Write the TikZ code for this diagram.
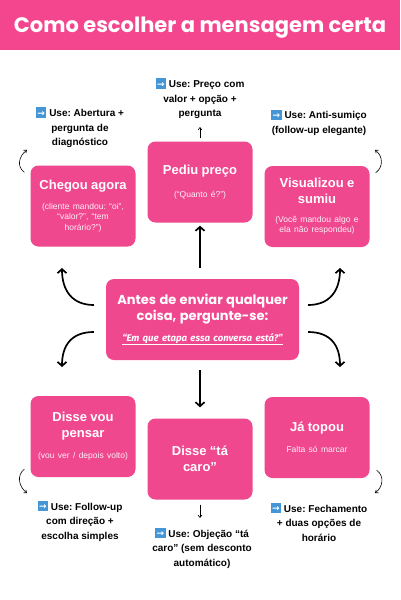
\documentclass[tikz,border=0pt]{standalone}
\usepackage{fontspec}
\setmainfont{Liberation Sans}
\newfontfamily\headfont{Poppins}
\newfontfamily\quotefont{Fira Sans}
\newfontfamily\symbolfont{DejaVu Sans}
\usetikzlibrary{arrows.meta,calc}
\definecolor{stagepink}{HTML}{F0488F}
\definecolor{barpink}{HTML}{F4468F}
\definecolor{emojiblue}{HTML}{4596D6}
\frenchspacing
\newcommand{\usearrow}{%
  \makebox[0pt][l]{\textcolor{emojiblue}{\rule[-0.12em]{1.05em}{1.05em}}}%
  \makebox[1.05em]{\raisebox{0.02em}{\textcolor{white}{\symbolfont\fontsize{9}{9}\selectfont →}}}}
\newcommand{\stagebox}[6]{%
  \node[stage] (#1) at (#2,#3) {%
    {\fontsize{13}{15.5}\selectfont\bfseries #4\par}\vspace{#6pt}%
    {\color{white!92!stagepink}\fontsize{8.5}{10.5}\selectfont #5\par}};
}
\tikzset{
  stage/.style={fill=stagepink, rounded corners=8pt, minimum width=105pt,
    minimum height=81pt, text width=97pt, inner sep=4pt, align=center, text=white},
  uselabel/.style={font=\fontsize{10}{14.5}\selectfont\bfseries, align=center},
  bigarrow/.style={line width=1.7pt, -{Straight Barb[length=4pt,width=9pt]}},
  smallarrow/.style={line width=0.6pt, -{Straight Barb[length=2.5pt,width=4pt]}},
}

\begin{document}
\begin{tikzpicture}[x=1pt,y=-1pt]
  \fill[white] (0,0) rectangle (400,600);
  \useasboundingbox (0,0) rectangle (400,600);
  % title bar
  \fill[barpink] (0,0) rectangle (400,50);
  \node[text=white,font=\headfont\bfseries\fontsize{21}{25}\selectfont] (title) at (200,28)
    {Como escolher a mensagem certa};

  % stages
  \node[stage, minimum width=191pt, text width=185pt] (center) at (202.5,319.5) {%
    {\headfont\bfseries\fontsize{13}{16}\selectfont Antes de enviar qualquer\\ coisa, pergunte-se:\par}\vspace{9pt}%
    {\quotefont\bfseries\itshape\fontsize{9.6}{12}\selectfont\underline{“Em que etapa essa conversa está?”}\par}};
  \stagebox{chegou}{83}{206}{Chegou agora}{(cliente mandou: “oi”,\\ “valor?”, “tem\\ horário?”)}{9.5}
  \stagebox{pediu}{200}{182}{Pediu preço}{(“Quanto é?”)}{12}
  \stagebox{sumiu}{317}{206.5}{Visualizou e\\ sumiu}{(Você mandou algo e\\ ela não respondeu)}{8.5}
  \stagebox{pensar}{83}{436.5}{Disse vou\\ pensar}{(vou ver / depois volto)}{11}
  \stagebox{caro}{200}{459}{Disse “tá\\ caro”}{}{0}
  \stagebox{topou}{317}{437.5}{Já topou}{Falta só marcar}{10}

  % what to use
  \node[uselabel] (usepediu) at (200,98.5) {\usearrow\ Use: Preço com\\ valor + opção +\\ pergunta};
  \node[uselabel] (usechegou) at (80,127.5) {\usearrow\ Use: Abertura +\\ pergunta de\\ diagnóstico};
  \node[uselabel] (usesumiu) at (319,122.5) {\usearrow\ Use: Anti-sumiço\\ (follow-up elegante)};
  \node[uselabel] (usepensar) at (80,521) {\usearrow\ Use: Follow-up\\ com direção +\\ escolha simples};
  \node[uselabel] (usecaro) at (202,548) {\usearrow\ Use: Objeção “tá\\ caro” (sem desconto\\ automático)};
  \node[uselabel] (usetopou) at (319,522) {\usearrow\ Use: Fechamento\\ + duas opções de\\ horário};

  % free ends of the arrows
  \coordinate (tochegou) at (62,268);
  \coordinate (topensar) at (62,367);
  \coordinate (tosumiu) at (340,268);
  \coordinate (totopou) at (340,367);
  \coordinate (uppediu) at (200,127);
  \coordinate (downcaro) at (200,518);
  \coordinate (upchegou) at (27,150);
  \coordinate (upsumiu) at (375,150);
  \coordinate (downpensar) at (27,493);
  \coordinate (downtopou) at (375,493);

  % thick arrows from the question
  \draw[bigarrow, shorten <=11pt, shorten >=3pt] (center.north -| pediu) -- (pediu.south);
  \draw[bigarrow, shorten <=10pt, shorten >=11pt] (center.south -| caro) -- (caro.north);
  \draw[bigarrow] ($(center.west)+(-12,-14.5)$) .. controls +(-22,0) and +(0,22) .. (tochegou);
  \draw[bigarrow] ($(center.west)+(-12,12.5)$) .. controls +(-22,0) and +(0,-22) .. (topensar);
  \draw[bigarrow] ($(center.east)+(9,-14.5)$) .. controls +(22,0) and +(0,22) .. (tosumiu);
  \draw[bigarrow] ($(center.east)+(9,12.5)$) .. controls +(22,0) and +(0,-22) .. (totopou);

  % thin arrows to the advice
  \draw[smallarrow, shorten <=3pt] (pediu.north) -- (uppediu);
  \draw[smallarrow, shorten <=5pt] (caro.south) -- (downcaro);
  \draw[smallarrow] ($(chegou.north west)+(-6,7)$) .. controls +(-8,-6) and +(-8,6) .. (upchegou);
  \draw[smallarrow] ($(sumiu.north east)+(6,7)$) .. controls +(8,-6) and +(8,6) .. (upsumiu);
  \draw[smallarrow] ($(pensar.south west)+(-6,-8)$) .. controls +(-8,6) and +(-8,-6) .. (downpensar);
  \draw[smallarrow] ($(topou.south east)+(7,-8)$) .. controls +(8,6) and +(8,-6) .. (downtopou);
\end{tikzpicture}
\end{document}
